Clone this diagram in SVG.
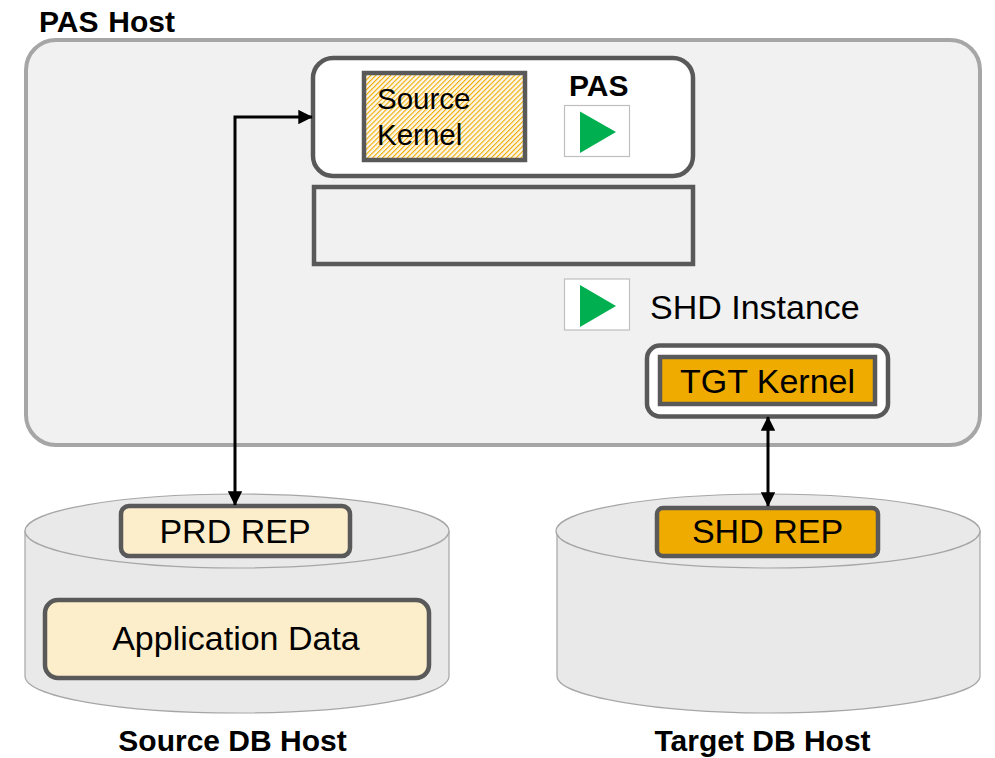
<svg xmlns="http://www.w3.org/2000/svg" width="995" height="758" viewBox="0 0 995 758">
<style>
text{font-family:"Liberation Sans",Arial,sans-serif;fill:#000}
.b{font-weight:bold;font-size:30px}
.t{font-size:34px}
.k{font-size:29.500px}
.box{stroke:#595959;stroke-width:4.5}
.cyl{fill:#e9e9e9;stroke:#a6a6a6;stroke-width:1.2}
.play{fill:#fff;stroke:#bfbfbf;stroke-width:1.2}
.tri{fill:#00b050}
.c{fill:none;stroke:#000;stroke-width:3}
</style>
<defs>
<pattern id="hatch" width="3.500" height="3.500" patternUnits="userSpaceOnUse" patternTransform="rotate(-45)">
<rect width="3.500" height="3.500" fill="#fdf8ec"/><rect width="3.500" height="1.100" fill="#f0ab00"/>
</pattern>
<marker id="ah" viewBox="0 0 10 10" refX="9.500" refY="5" markerWidth="4.800" markerHeight="4.800" orient="auto-start-reverse"><path d="M0 0L10 5L0 10Z" fill="#000"/></marker>
</defs>
<rect width="995" height="758" fill="#fff"/>
<g id="pas-host">
<rect x="26" y="40" width="954" height="405" rx="30" fill="#f1f1f1" stroke="#a6a6a6" stroke-width="4"/>
<text class="b" x="39" y="32" style="word-spacing:1.500px">PAS Host</text>
</g>
<g id="pas-instance">
<rect x="313" y="58" width="380" height="118" rx="20" fill="#fff" class="box"/>
<text class="b" x="569" y="96">PAS</text>
</g>
<g id="source-kernel">
<rect x="364" y="73" width="161" height="87" fill="url(#hatch)" class="box"/>
<text class="k" x="377" y="109">Source</text>
<text class="k" x="377" y="145">Kernel</text>
</g>
<g id="pas-play">
<rect x="564.500" y="105.500" width="65" height="51" class="play"/>
<path d="M580 111.500L616 132L580 153Z" class="tri"/>
</g>
<g id="empty-box">
<rect x="314" y="187" width="379" height="77" fill="none" class="box"/>
</g>
<g id="shd-play">
<rect x="564.500" y="279" width="65" height="51" class="play"/>
<path d="M580 285L616 306L580 327Z" class="tri"/>
</g>
<g id="shd-instance"><text class="t" x="650" y="319">SHD Instance</text></g>
<g id="tgt-kernel">
<rect x="647" y="345.500" width="241" height="71" rx="13" fill="#fff" class="box"/>
<rect x="660" y="357" width="215" height="47" fill="#f0ab00" class="box"/>
<text class="t" x="767.500" y="393" text-anchor="middle">TGT Kernel</text>
</g>
<g id="source-db">
<path d="M25 531V676C25 697 120 713 237 713C354 713 449 697 449 676V531Z" class="cyl"/>
<ellipse cx="237" cy="531" rx="212" ry="37" class="cyl"/>
<rect x="121" y="506" width="229" height="50" rx="8" fill="#fdeecb" class="box"/>
<text class="t" x="235" y="543" text-anchor="middle">PRD REP</text>
<rect x="45" y="600" width="384" height="78" rx="13" fill="#fdeecb" class="box"/>
<text class="t" x="236" y="650" text-anchor="middle">Application Data</text>
<text class="b" x="232.500" y="751" text-anchor="middle">Source DB Host</text>
</g>
<g id="target-db">
<path d="M557 531V676C557 697 662 713 768 713C874 713 980 697 980 676V531Z" class="cyl"/>
<ellipse cx="768" cy="531" rx="212" ry="37" class="cyl"/>
<rect x="657" y="508" width="221" height="48" rx="6" fill="#f0ab00" class="box"/>
<text class="t" x="767.500" y="543" text-anchor="middle">SHD REP</text>
<text class="b" x="762.500" y="751" text-anchor="middle">Target DB Host</text>
</g>
<g id="connectors">
<path d="M235 505V117H312" class="c" marker-start="url(#ah)" marker-end="url(#ah)"/>
<path d="M768 417V506" class="c" marker-start="url(#ah)" marker-end="url(#ah)"/>
</g>
</svg>
